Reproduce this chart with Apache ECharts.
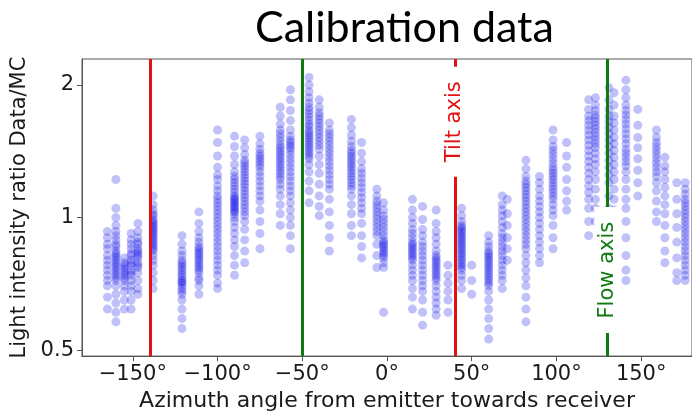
<!DOCTYPE html>
<html><head><meta charset="utf-8">
<script src="https://cdn.jsdelivr.net/npm/echarts@6/dist/echarts.min.js"></script>
<style>html,body{margin:0;padding:0;background:#fff}#c{width:692px;height:417px}</style>
</head><body><div id="c"></div>
<script>
const titleText = 'Calibration data';
const xAxisName = 'Azimuth angle from emitter towards receiver';
const yAxisName = 'Light intensity ratio Data/MC';
const xTicks = [-150, -100, -50, 0, 50, 100, 150];
const yTicks = [0.5, 1, 2];
const tiltAxisAngles = [-140, 40];
const flowAxisAngles = [-50, 130];
const tiltLabel = ['Tilt axis', 40, 1.65];
const flowLabel = ['Flow axis', 130, 0.76];

const angles = [-165,-160,-155,-151,-147,-138,-121,-111,-100,-90,-84,-75,-63,-57,-46,-40,-34,-21,-15,-6,-2,15,21,29,36,44,50,60,68,71,82,90,98,106,119,123,131,134,141,148,159,164,171,176];
const ratios = [
[0.93,0.90,0.87,0.85,0.82,0.80,0.78,0.76,0.74,0.72,0.70,0.66,0.62],
[1.22,1.05,1.00,0.96,0.93,0.91,0.89,0.87,0.86,0.84,0.83,0.82,0.81,0.80,0.79,0.78,0.77,0.76,0.75,0.74,0.73,0.72,0.70,0.67,0.64,0.61,0.58],
[0.81,0.79,0.78,0.77,0.76,0.75,0.74,0.73,0.72,0.70,0.68,0.65,0.62],
[0.92,0.89,0.87,0.85,0.83,0.82,0.80,0.79,0.78,0.76,0.75,0.74,0.72,0.70,0.68,0.65,0.62],
[0.97,0.93,0.90,0.88,0.87,0.85,0.84,0.83,0.82,0.81,0.79,0.78,0.77,0.75,0.72,0.69,0.67],
[1.12,1.07,1.04,1.02,1.01,0.99,0.98,0.97,0.96,0.95,0.94,0.93,0.92,0.91,0.90,0.89,0.88,0.87,0.86,0.85,0.84,0.82,0.80,0.78,0.75,0.72,0.69],
[0.91,0.87,0.84,0.82,0.80,0.79,0.78,0.77,0.76,0.75,0.74,0.73,0.72,0.715,0.71,0.70,0.69,0.68,0.67,0.65,0.62,0.59,0.56],
[1.03,0.97,0.93,0.90,0.88,0.86,0.85,0.84,0.83,0.82,0.81,0.80,0.79,0.78,0.77,0.76,0.75,0.73,0.72,0.70,0.67],
[1.58,1.48,1.38,1.30,1.25,1.22,1.18,1.15,1.12,1.10,1.08,1.06,1.04,1.02,1.00,0.98,0.96,0.94,0.92,0.90,0.88,0.86,0.84,0.82,0.80,0.78,0.76,0.74,0.71,0.69],
[1.53,1.45,1.38,1.32,1.27,1.24,1.22,1.20,1.18,1.16,1.14,1.12,1.11,1.10,1.09,1.08,1.07,1.06,1.05,1.04,1.03,1.02,1.00,0.98,0.95,0.92,0.89,0.86,0.82,0.78,0.74],
[1.50,1.44,1.39,1.35,1.33,1.31,1.29,1.27,1.25,1.23,1.21,1.19,1.17,1.15,1.13,1.11,1.09,1.07,1.05,1.03,1.01,0.98,0.94,0.89,0.84,0.79],
[1.53,1.47,1.43,1.40,1.38,1.36,1.34,1.32,1.30,1.27,1.24,1.21,1.18,1.15,1.12,1.09,1.04,0.98,0.92,0.85],
[1.78,1.70,1.63,1.58,1.55,1.52,1.49,1.46,1.44,1.42,1.40,1.38,1.36,1.34,1.32,1.30,1.28,1.26,1.24,1.22,1.19,1.16,1.12,1.07,1.02,0.96],
[1.95,1.85,1.75,1.66,1.58,1.53,1.50,1.48,1.46,1.44,1.42,1.39,1.36,1.33,1.30,1.27,1.24,1.21,1.18,1.15,1.12,1.08,1.04,1.00,0.96,0.91,0.85],
[2.08,2.00,1.93,1.87,1.82,1.78,1.75,1.72,1.69,1.66,1.63,1.61,1.58,1.56,1.54,1.52,1.50,1.48,1.46,1.44,1.42,1.40,1.38,1.36,1.32,1.27,1.21,1.15,1.08],
[1.85,1.78,1.73,1.70,1.67,1.64,1.61,1.58,1.55,1.52,1.49,1.46,1.43,1.38,1.32,1.26,1.19,1.12,1.06,1.01],
[1.64,1.58,1.55,1.52,1.49,1.46,1.43,1.40,1.37,1.34,1.31,1.28,1.25,1.22,1.19,1.16,1.10,1.03,0.96,0.90,0.84],
[1.67,1.60,1.54,1.49,1.45,1.42,1.40,1.38,1.36,1.34,1.32,1.30,1.28,1.26,1.24,1.22,1.20,1.18,1.16,1.12,1.07,1.02,0.96,0.91],
[1.48,1.40,1.34,1.29,1.26,1.23,1.20,1.17,1.14,1.11,1.08,1.05,1.02,0.97,0.91,0.86,0.81],
[1.16,1.12,1.09,1.07,1.05,1.03,1.01,0.99,0.97,0.95,0.93,0.91,0.87,0.82,0.77],
[1.08,1.04,1.01,0.99,0.97,0.95,0.93,0.91,0.89,0.88,0.87,0.86,0.85,0.84,0.83,0.82,0.81,0.79,0.77,0.61],
[1.10,1.04,1.00,0.97,0.94,0.92,0.90,0.88,0.87,0.86,0.85,0.84,0.83,0.82,0.81,0.80,0.78,0.76,0.74,0.72,0.69,0.66,0.62],
[1.06,0.99,0.94,0.91,0.88,0.86,0.84,0.82,0.80,0.78,0.76,0.74,0.72,0.70,0.68,0.65,0.61,0.57],
[1.04,0.97,0.93,0.90,0.87,0.84,0.82,0.81,0.80,0.79,0.78,0.77,0.76,0.75,0.74,0.73,0.72,0.70,0.68,0.66,0.64,0.62,0.60],
[0.78,0.74,0.71,0.68,0.65,0.61],
[1.05,1.01,0.98,0.96,0.95,0.94,0.93,0.92,0.91,0.90,0.89,0.88,0.87,0.86,0.85,0.84,0.83,0.82,0.81,0.80,0.79,0.78,0.77,0.76,0.74,0.72,0.69],
[0.78,0.72,0.67],
[0.91,0.88,0.86,0.84,0.83,0.82,0.81,0.80,0.79,0.78,0.77,0.76,0.75,0.74,0.73,0.72,0.71,0.70,0.68,0.65,0.62,0.59,0.56,0.53],
[1.12,1.07,1.04,1.01,0.98,0.95,0.92,0.90,0.88,0.86,0.84,0.82,0.80,0.78,0.76,0.74,0.72,0.69],
[1.10,1.02,0.96,0.90,0.85,0.80],
[1.35,1.29,1.24,1.21,1.19,1.17,1.15,1.13,1.11,1.09,1.07,1.05,1.03,1.01,0.99,0.97,0.95,0.93,0.91,0.89,0.87,0.85,0.82,0.79,0.76,0.73,0.70,0.66,0.62,0.58],
[1.24,1.20,1.16,1.12,1.09,1.06,1.03,1.00,0.97,0.94,0.91,0.88,0.85,0.82,0.79],
[1.58,1.50,1.45,1.42,1.39,1.36,1.33,1.30,1.28,1.26,1.24,1.22,1.20,1.18,1.16,1.14,1.12,1.10,1.07,1.04,1.01,0.96,0.90,0.85],
[1.48,1.38,1.30,1.22,1.15,1.09,1.04],
[1.85,1.76,1.70,1.66,1.62,1.58,1.54,1.50,1.46,1.42,1.38,1.34,1.30,1.26,1.22,1.18,1.14,1.10,1.05,0.98,0.91],
[1.87,1.80,1.75,1.71,1.68,1.65,1.62,1.59,1.56,1.53,1.50,1.47,1.44,1.40,1.36,1.32,1.27,1.22,1.16,1.10,1.05,0.98],
[1.97,1.85,1.76,1.70,1.65,1.60,1.55,1.50,1.45,1.40,1.35,1.30,1.25,1.20,1.12,1.05,1.01],
[1.92,1.80,1.70,1.64,1.58,1.52,1.47,1.42,1.37,1.32,1.27,1.22,1.16,1.10,1.04],
[2.05,1.95,1.87,1.80,1.75,1.71,1.67,1.63,1.59,1.55,1.51,1.47,1.43,1.40,1.37,1.34,1.31,1.27,1.22,1.16,1.10,1.05,0.98,0.90,0.82,0.76,0.72],
[1.76,1.62,1.52,1.44,1.36,1.28,1.20,1.12],
[1.58,1.52,1.48,1.45,1.42,1.39,1.36,1.33,1.30,1.27,1.24,1.20,1.15,1.09,1.03,0.98],
[1.37,1.31,1.27,1.22,1.17,1.12,1.07,1.02,0.96,0.90,0.84,0.79],
[1.20,1.10,1.02,0.95,0.88,0.81,0.75,0.72],
[1.20,1.16,1.13,1.10,1.08,1.06,1.04,1.02,1.00,0.98,0.96,0.94,0.92,0.90,0.88,0.86,0.84,0.82,0.80,0.78,0.76,0.74,0.72]
];

const points = [];
angles.forEach((a, i) => ratios[i].forEach(v => points.push([a, v])));

const FONT = 'DejaVu Sans';
const TXT = '#1a1a1a';
const AX = '#555';
const RED = '#e21212';
const GREEN = '#0f7a0f';

function axisLabelSeries(lbl, color, boxH) {
  return {
    type: 'custom', z: 10, silent: true,
    data: [[lbl[1], lbl[2]]],
    renderItem: (params, api) => {
      const p = api.coord([api.value(0), api.value(1)]);
      return {
        type: 'group',
        children: [
          {type: 'rect', shape: {x: p[0] - 13, y: p[1] - boxH / 2, width: 26, height: boxH}, style: {fill: '#fff'}},
          {type: 'text', x: p[0], y: p[1], rotation: Math.PI / 2,
           style: {text: lbl[0], fill: color, font: '21px "DejaVu Sans"', align: 'center', verticalAlign: 'middle'}}
        ]
      };
    }
  };
}

const chart = echarts.init(document.getElementById('c'), null, {renderer: 'canvas'});
chart.setOption({
  animation: false,
  backgroundColor: '#fff',
  title: {
    text: titleText, left: 250, top: 2,
    textStyle: {fontFamily: 'Lato', fontSize: 43, fontWeight: 'normal', color: '#000'}
  },
  grid: {left: 82, top: 59, width: 613, height: 299, show: true, borderColor: AX, borderWidth: 1, backgroundColor: 'transparent'},
  xAxis: {
    type: 'value', min: -180, max: 180,
    name: xAxisName, nameLocation: 'middle', nameGap: 31,
    nameTextStyle: {fontFamily: FONT, fontSize: 22, color: TXT},
    splitLine: {show: false},
    axisLine: {onZero: false, lineStyle: {color: AX}},
    axisTick: {show: true, length: 5, customValues: xTicks, lineStyle: {color: AX}},
    axisLabel: {
      customValues: xTicks, margin: 8,
      fontFamily: FONT, fontSize: 21, color: TXT,
      formatter: v => (v < 0 ? '\u2212' + Math.abs(v) : String(v)) + '\u00b0'
    }
  },
  yAxis: {
    type: 'log', logBase: 2, min: 0.485, max: 2.29,
    name: yAxisName, nameLocation: 'middle', nameGap: 52, nameRotate: 90,
    nameTextStyle: {fontFamily: FONT, fontSize: 21, color: TXT},
    splitLine: {show: false},
    axisLine: {show: true, onZero: false, lineStyle: {color: AX}},
    axisTick: {show: true, length: 5, customValues: yTicks, lineStyle: {color: AX}},
    axisLabel: {
      customValues: yTicks, margin: 8,
      fontFamily: FONT, fontSize: 21, color: TXT,
      formatter: v => String(+(+v).toPrecision(3))
    }
  },
  series: [
    {
      type: 'scatter', z: 2, data: points, symbol: 'circle', symbolSize: 9,
      itemStyle: {color: 'rgba(0,0,230,0.3)', borderWidth: 0},
      emphasis: {disabled: true}
    },
    {
      type: 'scatter', z: 3, data: [],
      markLine: {
        silent: true, symbol: ['none', 'none'], animation: false, z: 3,
        label: {show: false},
        lineStyle: {color: RED, width: 3, type: 'solid'},
        data: tiltAxisAngles.map(a => ({xAxis: a}))
      }
    },
    {
      type: 'scatter', z: 3, data: [],
      markLine: {
        silent: true, symbol: ['none', 'none'], animation: false, z: 3,
        label: {show: false},
        lineStyle: {color: GREEN, width: 3, type: 'solid'},
        data: flowAxisAngles.map(a => ({xAxis: a}))
      }
    },
    axisLabelSeries(tiltLabel, RED, 110),
    axisLabelSeries(flowLabel, GREEN, 126)
  ]
});
</script></body></html>
